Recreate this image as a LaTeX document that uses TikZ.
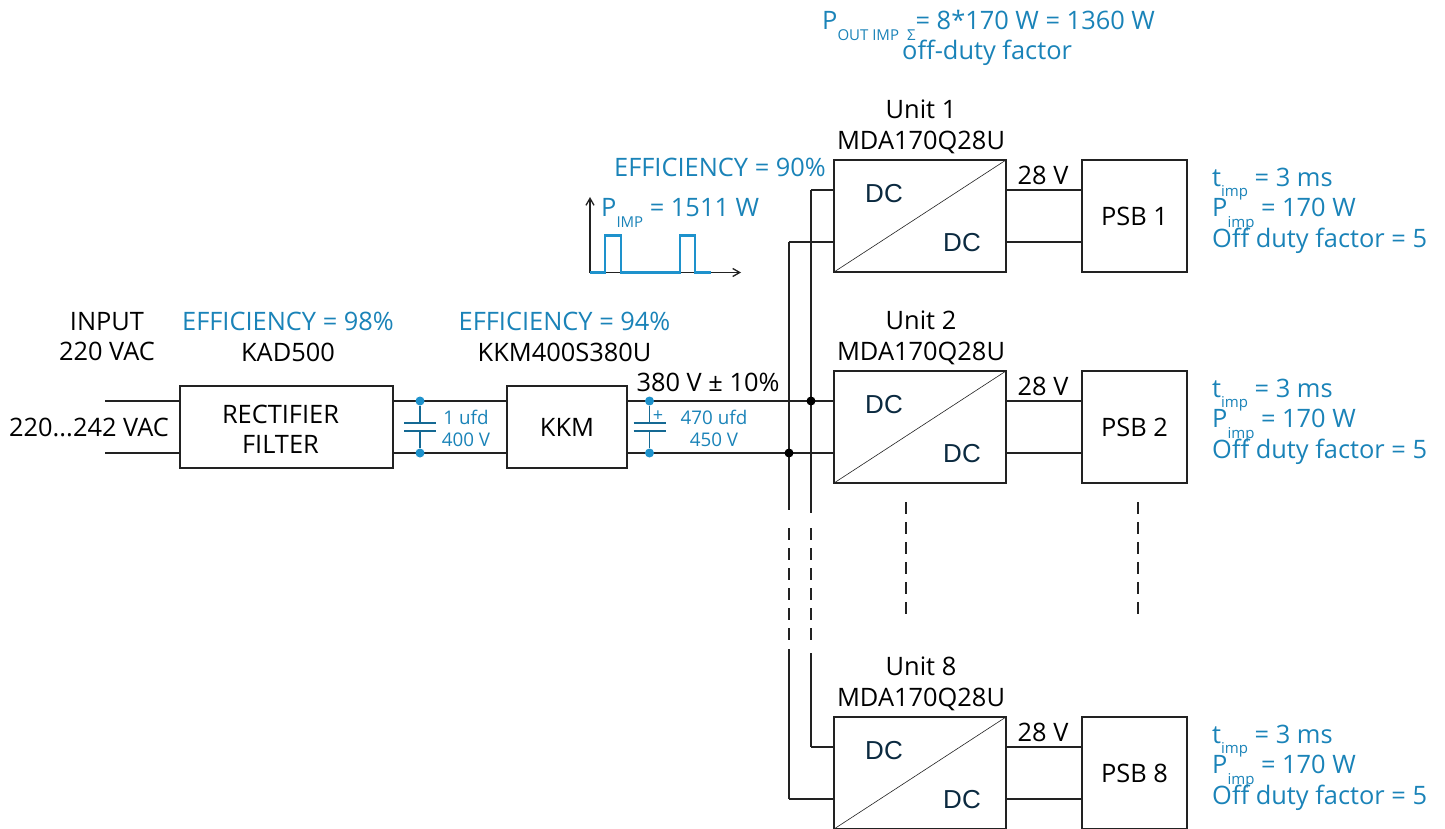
\documentclass[tikz,border=0pt]{standalone}
\usepackage{fontspec}
\setmainfont{Open Sans}
\usetikzlibrary{arrows.meta, calc}
\definecolor{noteblue}{HTML}{1A83B8}
\definecolor{pulseblue}{HTML}{1E92CC}
\definecolor{wireblack}{HTML}{222222}
\definecolor{dcnavy}{HTML}{0B2A40}
\newcommand{\lowsub}[1]{\smash{\raisebox{-0.42em}{\fontsize{15}{15}\selectfont #1}}}
\tikzset{
  label24/.style={font=\fontsize{25.4}{30.5}\selectfont,inner sep=0pt,align=center,text=black},
  note24/.style={label24,text=noteblue},
  note18/.style={font=\fontsize{18.8}{22.5}\selectfont,inner sep=0pt,align=center,text=noteblue},
  blockbox/.style={draw=wireblack,line width=1.3pt,fill=white,inner sep=0pt,outer sep=0pt,align=center,
    font=\fontsize{25.4}{30.5}\selectfont},
  wire/.style={draw=wireblack,line width=1.3pt},
  buscut/.style={wire,dash pattern=on 12pt off 8pt},
  dcmark/.style={font=\fontsize{26}{26}\selectfont\fontspec{Liberation Sans},text=dcnavy,inner sep=0pt},
  junction/.style={circle,fill=black,inner sep=0pt,minimum size=9pt},
  capdot/.style={circle,fill=pulseblue,inner sep=0pt,minimum size=9pt},
  capline/.style={draw=noteblue!80!black,line width=1.3pt},
}
\begin{document}
\begin{tikzpicture}[x=1pt,y=-1pt,>={Straight Barb[length=7pt,width=8pt]}]
  \useasboundingbox (0,0) rectangle (1445,829);

  % input part
  \node[blockbox,minimum width=213pt,minimum height=82pt] (filter) at (286.5,427) {};
  \node[label24] (filterlab) at (280.5,429.5) {RECTIFIER\\FILTER};
  \node[blockbox,minimum width=120pt,minimum height=82pt] (kkm) at (567,427) {KKM};
  \coordinate (inup) at (105,401);
  \coordinate (indown) at (105,453);
  \draw[wire] (inup) -- (inup -| filter.west);
  \draw[wire] (indown) -- (indown -| filter.west);
  \draw[wire] (inup -| filter.east) -- (inup -| kkm.west);
  \draw[wire] (indown -| filter.east) -- (indown -| kkm.west);

  \node[label24] (inputlab) at (107,336.5) {INPUT\\220 VAC};
  \node[label24] (rangelab) at (89,427) {220...242 VAC};
  \node[note24] (effa) at (288,321) {EFFICIENCY = 98\%};
  \node[label24] (kadlab) at (288,352) {KAD500};
  \node[note24] (effb) at (564.5,321) {EFFICIENCY = 94\%};
  \node[label24] (kkmlab) at (564.5,352) {KKM400S380U};
  \node[label24] (vlab) at (708,382) {380 V ± 10\%};
  \node[note24] (effc) at (720,167) {EFFICIENCY = 90\%};

  % units
  \foreach \n/\yt in {1/160,2/371,8/717}{
    \node[blockbox,minimum width=172pt,minimum height=112pt] (unit\n) at (920,\yt+56) {};
    \node[blockbox,minimum width=105pt,minimum height=112pt] (psb\n) at (1134.5,\yt+56) {PSB \n};
    \draw[draw=wireblack,line width=0.6pt] (unit\n.south west) -- (unit\n.north east);
    \node[dcmark] (dca\n) at (884,\yt+34) {DC};
    \node[dcmark] (dcb\n) at (962,\yt+83) {DC};
    \node[label24] (name\n) at (921,\yt-33) {Unit \n\\MDA170Q28U};
    \coordinate (up\n) at (811,\yt+30);
    \coordinate (down\n) at (789,\yt+82);
    \draw[wire] (up\n -| unit\n.east) -- (up\n -| psb\n.west);
    \draw[wire] (down\n -| unit\n.east) -- (down\n -| psb\n.west);
    \draw[wire] (up\n) -- (up\n -| unit\n.west);
    \draw[wire] (down\n) -- (down\n -| unit\n.west);
    \node[label24] (volt\n) at (1043,\yt+15) {28 V};
    \node[note24,align=left,anchor=north west] (note\n) at (1212,\yt+7.5)
      {t\lowsub{imp} = 3 ms\\P\lowsub{imp} = 170 W\\Off duty factor = 5};
  }

  % supply lines to the units
  \coordinate (busa) at (811,513);
  \coordinate (busb) at (789,510);
  \coordinate (busc) at (811,528);
  \coordinate (busd) at (789,528);
  \coordinate (buse) at (811,653);
  \coordinate (busf) at (789,649);
  \draw[wire] (up1) -- (busa);
  \draw[wire] (down1) -- (busb);
  \draw[buscut] (busc) -- (811,642);
  \draw[buscut] (busd) -- (789,642);
  \draw[wire] (buse) -- (up8);
  \draw[wire] (busf) -- (down8);
  \draw[wire] (inup -| kkm.east) -- (unit2.west |- inup);
  \draw[wire] (indown -| kkm.east) -- (unit2.west |- indown);
  \node[junction] (joina) at (811,401) {};
  \node[junction] (joinb) at (789,453) {};
  % breaks between unit 2 and unit 8
  \draw[buscut] (906,502) -- (906,616);
  \draw[buscut] (1138,502) -- (1138,616);

  % capacitors
  \foreach \nm/\cx/\hw in {capa/420/16,capb/649.5/16}{
    \node[capdot] (\nm top) at (\cx,401) {};
    \node[capdot] (\nm bot) at (\cx,453) {};
    \coordinate (\nm p) at (\cx,423);
    \coordinate (\nm q) at (\cx,431);
    \draw[capline] (\nm top) -- (\nm p);
    \draw[capline] (\nm bot) -- (\nm q);
    \draw[capline] ($(\nm p)+(-\hw,0)$) -- ($(\nm p)+(\hw,0)$);
    \draw[capline] ($(\nm q)+(-\hw,0)$) -- ($(\nm q)+(\hw,0)$);
  }
  \node[note18] (capalab) at (466,428.5) {1 ufd\\400 V};
  \node[note18] (capblab) at (714,428.5) {470 ufd\\450 V};
  \node[font=\fontsize{18}{18}\selectfont,text=noteblue,inner sep=0pt] (capsign) at (658,416) {+};

  % pulse sketch
  \coordinate (orig) at (590,272.5);
  \draw[wire,->] (orig) -- (590,197);
  \draw[wire,->] (orig) -- (741,272.5);
  \draw[draw=pulseblue,line width=2.8pt] (orig) -- (605,272.5) -- (605,235.5) -- (621,235.5) -- (621,272.5)
    -- (680,272.5) -- (680,235.5) -- (695,235.5) -- (695,272.5) -- (711,272.5);
  \node[note24,anchor=base west] (pimplab) at (601,217) {P\lowsub{IMP} = 1511 W};

  % total power
  \node[note24,anchor=base west] (totlab) at (822,29.5) {P\lowsub{OUT IMP \;Σ}= 8*170 W = 1360 W};
  \node[note24,anchor=base west] (offlab) at (902,60) {off-duty factor};
\end{tikzpicture}
\end{document}
